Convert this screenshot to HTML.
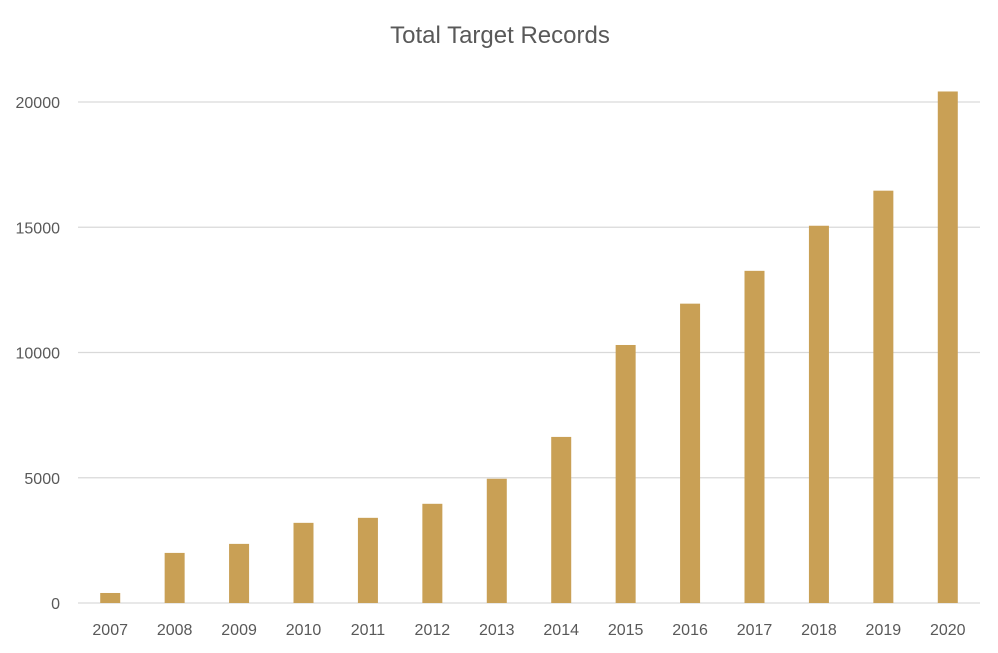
<!DOCTYPE html>
<html><head><meta charset="utf-8"><style>
body{margin:0;background:#fff;}
svg{display:block;font-family:"Liberation Sans",sans-serif;}
</style></head><body>
<svg id="chart" width="998" height="653" viewBox="0 0 998 653">
<rect width="998" height="653" fill="#fff"/>
<text x="500" y="43" text-anchor="middle" font-size="24" fill="#595959">Total Target Records</text>
<g id="grid"></g><g id="bars"></g><g id="xlabels"></g><g id="ylabels"></g>
</svg>
<script>
const categories=["2007","2008","2009","2010","2011","2012","2013","2014","2015","2016","2017","2018","2019","2020"];
const values=[400,2000,2360,3200,3400,3960,4960,6630,10300,11950,13260,15060,16460,20420];
const yTicks=[0,5000,10000,15000,20000];
const NS="http://www.w3.org/2000/svg";
const x0=78,x1=980,y0=603,yTop=102,yMaxTick=20000;
const bw=(x1-x0)/categories.length;
function y(v){return y0-(v/yMaxTick)*(y0-yTop);}
function xc(i){return x0+bw*(i+0.5);}
function mk(t,a,p){const e=document.createElementNS(NS,t);for(const k in a)e.setAttribute(k,a[k]);p.appendChild(e);return e;}
const g=document.getElementById('grid'),b=document.getElementById('bars'),xl=document.getElementById('xlabels'),yl=document.getElementById('ylabels');
yTicks.forEach(t=>{
 const l=mk('line',{x1:x0,x2:x1,y1:y(t),y2:y(t),stroke:'#d9d9d9','stroke-width':1.3},g);
 
 
 const tx=mk('text',{x:60,y:y(t)+6,'text-anchor':'end','font-size':16,fill:'#595959'},yl);
 tx.textContent=t;
 
 
});
categories.forEach((c,i)=>{
 const r=mk('rect',{x:xc(i)-10,y:y(values[i]),width:20,height:y0-y(values[i]),fill:'#c9a055'},b);
 
 
 const t=mk('text',{x:xc(i),y:635,'text-anchor':'middle','font-size':16,fill:'#595959'},xl);
 t.textContent=c;
 
 
});
</script>
</body></html>
